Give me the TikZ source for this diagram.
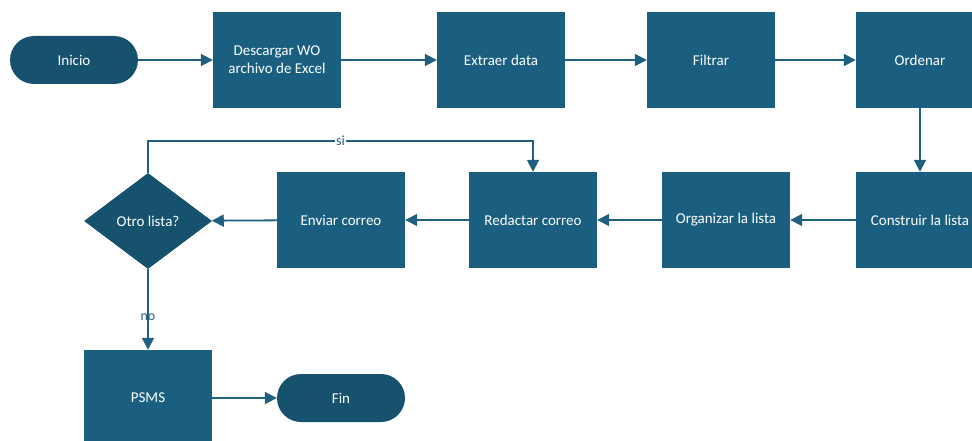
\documentclass[tikz,border=0pt]{standalone}
\usepackage{fontspec}
\setmainfont{Carlito}
\usetikzlibrary{shapes.geometric,arrows.meta}
\definecolor{boxblue}{RGB}{27,95,128}
\definecolor{termblue}{RGB}{22,81,110}
\definecolor{lineblue}{RGB}{31,96,128}
\begin{document}
\begin{tikzpicture}[x=1pt,y=-1pt,
  every node/.style={font=\fontsize{15}{18}\selectfont},
  stepbox/.style={rectangle,fill=boxblue,draw=none,minimum width=128pt,minimum height=96pt,inner sep=0pt,text=white,align=center},
  terminal/.style={rectangle,rounded corners=24pt,fill=termblue,draw=none,minimum width=128pt,minimum height=48pt,inner sep=0pt,text=white},
  decision/.style={diamond,fill=termblue,draw=none,minimum width=128pt,minimum height=96pt,inner sep=0pt,aspect=1.33,text=white},
  flow/.style={draw=lineblue,line width=1.8pt,-{Triangle[length=12pt,width=12pt]}},
  lbl/.style={text=lineblue,font=\fontsize{14}{16}\selectfont,inner sep=1pt}]
  \useasboundingbox (0,0) rectangle (972,441);

  % top row
  \node[terminal] (inicio) at (74,60) {Inicio};
  \node[stepbox] (descargar) at (277,60) {Descargar WO\\archivo de Excel};
  \node[stepbox] (extraer) at (501,60) {Extraer data};
  \node[stepbox] (filtrar) at (711,60) {Filtrar};
  \node[stepbox] (ordenar) at (920,60) {Ordenar};

  % middle row
  \node[stepbox] (construir) at (920,220) {Construir la lista};
  \node[stepbox] (organizar) at (726,220) {Organizar la lista};
  \node[stepbox] (redactar) at (533,220) {Redactar correo};
  \node[stepbox] (enviar) at (341,220) {Enviar correo};
  \node[decision] (otro) at (148,221) {Otro lista?};

  % bottom row
  \node[stepbox] (psms) at (148,398) {PSMS};
  \node[terminal] (fin) at (341,398) {Fin};

  \coordinate (siL) at (148,141);
  \coordinate (siR) at (533,141);

  % connectors
  \draw[flow] (inicio) -- (descargar);
  \draw[flow] (descargar) -- (extraer);
  \draw[flow] (extraer) -- (filtrar);
  \draw[flow] (filtrar) -- (ordenar);
  \draw[flow] (ordenar) -- (construir);
  \draw[flow] (construir) -- (organizar);
  \draw[flow] (organizar) -- (redactar);
  \draw[flow] (redactar) -- (enviar);
  \draw[flow] (enviar) -- (otro);
  \draw[flow] (otro.north) -- (siL) -- node[lbl,fill=white,pos=0.5] {si} (siR) -- (redactar.north);
  \draw[flow] (otro.south) -- node[lbl,pos=0.6] {no} (psms.north);
  \draw[flow] (psms) -- (fin);
\end{tikzpicture}
\end{document}
